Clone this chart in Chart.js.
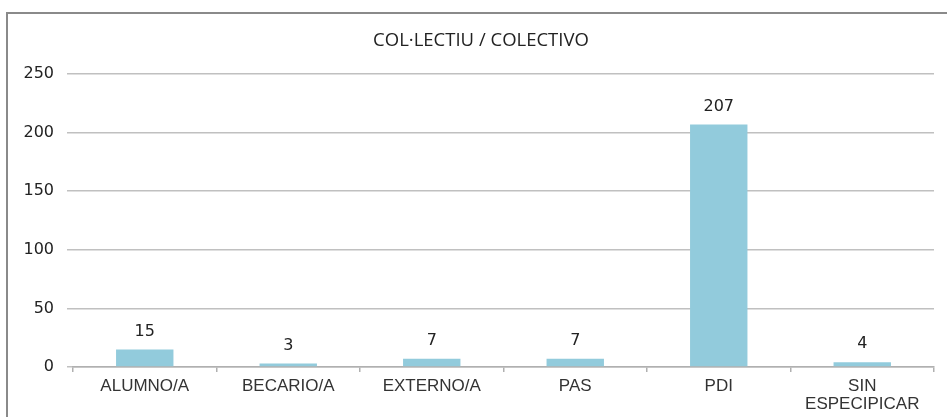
<!DOCTYPE html>
<html>
<head>
<meta charset="utf-8">
<script src="https://cdn.jsdelivr.net/npm/chart.js@4/dist/chart.umd.min.js"></script>
<style>
  html, body { margin: 0; padding: 0; background: #ffffff; }
  #wrap { position: relative; width: 947px; height: 417px; }
</style>
</head>
<body>
<div id="wrap"><canvas id="c" width="947" height="417"></canvas></div>
<script>
const categories = ["ALUMNO/A", "BECARIO/A", "EXTERNO/A", "PAS", "PDI", ["SIN", "ESPECIPICAR"]];
const values = [15, 3, 7, 7, 207, 4];
const yTicks = [0, 50, 100, 150, 200, 250];
const titleText = "COL·LECTIU / COLECTIVO";

const frame = {
  id: 'frame',
  beforeDraw(chart) {
    const ctx = chart.ctx;
    ctx.save();
    ctx.fillStyle = '#ffffff';
    ctx.fillRect(0, 0, chart.width, chart.height);
    ctx.strokeStyle = '#8a8a8a';
    ctx.lineWidth = 2;
    ctx.strokeRect(7, 13, 1200, 1200);
    ctx.font = '18.5px "Liberation Sans Narrow", "Open Sans", sans-serif';
    ctx.fillStyle = '#222222';
    ctx.textAlign = 'center';
    ctx.textBaseline = 'middle';
    ctx.fillText(titleText, 481, 41);
    ctx.restore();
  }
};

const labelsPlugin = {
  id: 'valueLabels',
  afterDatasetsDraw(chart) {
    const ctx = chart.ctx;
    const meta = chart.getDatasetMeta(0);
    ctx.save();
    ctx.font = '16px "DejaVu Sans", sans-serif';
    ctx.fillStyle = '#222222';
    ctx.textAlign = 'center';
    ctx.textBaseline = 'middle';
    meta.data.forEach((bar, i) => {
      ctx.fillText(String(chart.data.datasets[0].data[i]), bar.x, bar.y - 18);
    });
    ctx.restore();
  }
};

new Chart(document.getElementById('c'), {
  type: 'bar',
  data: {
    labels: categories,
    datasets: [{
      data: values,
      backgroundColor: '#92cbdc',
      borderWidth: 0,
      categoryPercentage: 1.0,
      barPercentage: 0.4
    }]
  },
  options: {
    responsive: false,
    animation: false,
    devicePixelRatio: 1,
    layout: { padding: { left: 0, right: 13, top: 74, bottom: 0 } },
    plugins: {
      legend: { display: false },
      tooltip: { enabled: false },
      title: { display: false }
    },
    scales: {
      x: {
        offset: true,
        grid: {
          offset: true,
          drawOnChartArea: false,
          drawTicks: true,
          tickLength: 5,
          color: '#b0b0b0',
          lineWidth: 1.5
        },
        border: { display: true, color: '#b0b0b0', width: 1.5 },
        ticks: {
          color: '#333333',
          font: { family: '"Liberation Sans", Arial, sans-serif', size: 17, lineHeight: 18 / 17 },
          padding: 5,
          maxRotation: 0,
          autoSkip: false
        },
        afterFit(scale) { scale.height = 50; }
      },
      y: {
        min: 0,
        max: 250,
        afterBuildTicks(scale) { scale.ticks = yTicks.map(v => ({ value: v })); },
        grid: {
          color: '#c0c0c0',
          lineWidth: 1.5,
          drawTicks: true,
          tickLength: 6
        },
        border: { display: false },
        ticks: {
          color: '#222222',
          font: { family: '"DejaVu Sans", sans-serif', size: 16 },
          padding: 13
        },
        afterFit(scale) { scale.width = 73; }
      }
    }
  },
  plugins: [frame, labelsPlugin]
});
</script>
</body>
</html>
